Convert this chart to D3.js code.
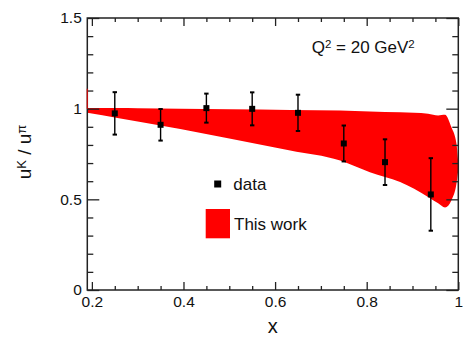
<!DOCTYPE html>
<html><head><meta charset="utf-8">
<script src="https://cdn.jsdelivr.net/npm/d3@7"></script>
<style>
body{margin:0;background:#fff}
text{font-family:"Liberation Sans",Arial,Helvetica,sans-serif;fill:#111}
</style>
</head><body>
<svg id="chart" width="472" height="340"></svg>
<script>
// Measured ratio points with symmetric uncertainties
const dataX = [0.25, 0.35, 0.45, 0.55, 0.65, 0.75, 0.84, 0.94];
const dataY = [0.974, 0.911, 1.003, 0.999, 0.977, 0.808, 0.705, 0.527];
const dataErr = [0.117, 0.087, 0.080, 0.091, 0.100, 0.099, 0.126, 0.200];

// Uncertainty band of the calculation
const bandX  = [0.19, 0.256, 0.30, 0.393, 0.50, 0.633, 0.742, 0.807, 0.873, 0.934, 0.956, 0.971, 0.985, 0.996, 1.0];
const bandHi = [1.003, 1.003, 1.002, 1.0, 0.997, 0.993, 0.99, 0.985, 0.98, 0.972, 0.963, 0.967, 0.897, 0.806, 0.70];
const bandLo = [0.978, 0.949, 0.929, 0.888, 0.835, 0.769, 0.714, 0.650, 0.595, 0.513, 0.478, 0.455, 0.495, 0.586, 0.66];

// Axis ticks
const xMajor = [0.2, 0.4, 0.6, 0.8, 1.0];
const xMajorLabels = ["0.2", "0.4", "0.6", "0.8", "1"];
const xMinor = [0.25, 0.3, 0.35, 0.45, 0.5, 0.55, 0.65, 0.7, 0.75, 0.85, 0.9, 0.95];
const yMajor = [0, 0.5, 1.0, 1.5];
const yMajorLabels = ["0", "0.5", "1", "1.5"];
const yMinor = [0.1, 0.2, 0.3, 0.4, 0.6, 0.7, 0.8, 0.9, 1.1, 1.2, 1.3, 1.4];

const L = 87.3, R = 458.3, T = 18, B = 290;
const x = d3.scaleLinear().domain([0.19, 1.0]).range([L, R]);
const y = d3.scaleLinear().domain([0, 1.5]).range([B, T]);

const svg = d3.select("#chart");

svg.append("defs").append("clipPath").attr("id", "plotClip")
  .append("rect").attr("x", L).attr("y", T).attr("width", R - L).attr("height", B - T);

// Band
const band = bandX.map((v, i) => ({x: v, hi: bandHi[i], lo: bandLo[i]}));
const area = d3.area()
  .x(d => x(d.x)).y0(d => y(d.lo)).y1(d => y(d.hi))
  .curve(d3.curveMonotoneX);
svg.append("path").datum(band)
  .attr("clip-path", "url(#plotClip)")
  .attr("d", area).attr("fill", "#ff0000");

// Axes
const axisColor = "#222";
const fs = 15.5;
function styleAxis(g) {
  g.select(".domain").remove();
  g.selectAll(".tick line").attr("stroke", axisColor).attr("stroke-width", 1.3);
  g.selectAll("text").style("font-size", fs + "px").attr("fill", "#111");
}

svg.append("g").attr("transform", `translate(0,${B})`)
  .call(d3.axisBottom(x).tickValues(xMajor).tickSize(-8).tickPadding(6.2)
    .tickFormat((d, i) => xMajorLabels[i]))
  .call(styleAxis);
svg.append("g").attr("transform", `translate(0,${B})`)
  .call(d3.axisBottom(x).tickValues(xMinor).tickSize(-4).tickFormat(""))
  .call(styleAxis);
svg.append("g").attr("transform", `translate(0,${T})`)
  .call(d3.axisTop(x).tickValues(xMajor).tickSize(-8).tickFormat(""))
  .call(styleAxis);
svg.append("g").attr("transform", `translate(0,${T})`)
  .call(d3.axisTop(x).tickValues(xMinor).tickSize(-4).tickFormat(""))
  .call(styleAxis);

svg.append("g").attr("transform", `translate(${L},0)`)
  .call(d3.axisLeft(y).tickValues(yMajor).tickSize(-12).tickPadding(5.5)
    .tickFormat((d, i) => yMajorLabels[i]))
  .call(styleAxis);
svg.append("g").attr("transform", `translate(${L},0)`)
  .call(d3.axisLeft(y).tickValues(yMinor).tickSize(-6).tickFormat(""))
  .call(styleAxis);
svg.append("g").attr("transform", `translate(${R},0)`)
  .call(d3.axisRight(y).tickValues(yMajor).tickSize(-12).tickFormat(""))
  .call(styleAxis);
svg.append("g").attr("transform", `translate(${R},0)`)
  .call(d3.axisRight(y).tickValues(yMinor).tickSize(-6).tickFormat(""))
  .call(styleAxis);

// Frame
svg.append("rect").attr("x", L).attr("y", T).attr("width", R - L).attr("height", B - T)
  .attr("fill", "none").attr("stroke", axisColor).attr("stroke-width", 1.5);

// Band edge running up the left frame
svg.append("line").attr("x1", L).attr("x2", L)
  .attr("y1", y(1.0)).attr("y2", y(1.11))
  .attr("stroke", "#ff0000").attr("stroke-width", 1.2).attr("opacity", 0.8);

// Data points with error bars
const pts = dataX.map((v, i) => ({x: v, y: dataY[i], e: dataErr[i]}));
const pg = svg.append("g");
pg.selectAll("line.err").data(pts).join("line").attr("class", "err")
  .attr("x1", d => x(d.x)).attr("x2", d => x(d.x))
  .attr("y1", d => y(d.y - d.e)).attr("y2", d => y(d.y + d.e))
  .attr("stroke", "#000").attr("stroke-width", 1.4);
[-1, 1].forEach(s => {
  pg.selectAll("line.cap" + (s > 0 ? "u" : "d")).data(pts).join("line")
    .attr("class", "cap" + (s > 0 ? "u" : "d"))
    .attr("x1", d => x(d.x) - 2.2).attr("x2", d => x(d.x) + 2.2)
    .attr("y1", d => y(d.y + s * d.e)).attr("y2", d => y(d.y + s * d.e))
    .attr("stroke", "#000").attr("stroke-width", 2);
});
const ms = 6;
pg.selectAll("rect.pt").data(pts).join("rect").attr("class", "pt")
  .attr("x", d => x(d.x) - ms / 2).attr("y", d => y(d.y) - ms / 2)
  .attr("width", ms).attr("height", ms).attr("fill", "#000");

// Axis titles
svg.append("text").attr("x", (L + R) / 2).attr("y", 332.5)
  .attr("text-anchor", "middle").style("font-size", "20px").text("x");

const yt = svg.append("text")
  .attr("transform", `translate(31,${(T + B) / 2 - 2}) rotate(-90)`)
  .attr("text-anchor", "middle").style("font-size", "19px");
yt.append("tspan").text("u");
yt.append("tspan").attr("baseline-shift", "38%").style("font-size", "13px").text("K");
yt.append("tspan").text(" / u");
yt.append("tspan").attr("baseline-shift", "38%").style("font-size", "13px").text("π");

// Scale label
const q = svg.append("text").attr("x", 311.7).attr("y", 53.3).style("font-size", "17px");
q.append("tspan").text("Q");
q.append("tspan").attr("baseline-shift", "40%").style("font-size", "11.5px").text("2");
q.append("tspan").text(" = 20 GeV");
q.append("tspan").attr("baseline-shift", "40%").style("font-size", "11.5px").text("2");

// Legend
const lg = svg.append("g");
lg.append("rect").attr("x", 217.7 - 3.5).attr("y", 184 - 3.5).attr("width", 7).attr("height", 7).attr("fill", "#000");
lg.append("text").attr("x", 233.3).attr("y", 190).style("font-size", "17px").text("data");
lg.append("rect").attr("x", 205.7).attr("y", 209).attr("width", 24.3).attr("height", 29.3).attr("fill", "#ff0000");
lg.append("text").attr("x", 234).attr("y", 229.5).style("font-size", "17px").text("This work");
</script>
</body></html>
